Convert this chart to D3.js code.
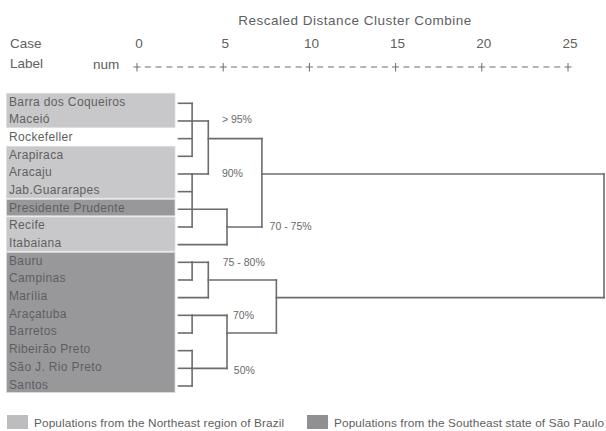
<!DOCTYPE html>
<html>
<head>
<meta charset="utf-8">
<script src="https://cdn.jsdelivr.net/npm/d3@7"></script>
<style>
  html, body { margin: 0; padding: 0; background: #fff; }
  svg { display: block; font-family: "Liberation Sans", Arial, Helvetica, sans-serif; }
</style>
</head>
<body>
<svg id="chart" width="606" height="431"></svg>
<script>
// Cases in dendrogram order
const cases = [
  "Barra dos Coqueiros", "Maceió", "Rockefeller", "Arapiraca", "Aracaju",
  "Jab.Guararapes", "Presidente Prudente", "Recife", "Itabaiana", "Bauru",
  "Campinas", "Marília", "Araçatuba", "Barretos", "Ribeirão Preto",
  "São J. Rio Preto", "Santos"
];
// Origin of each population: NE = Northeast of Brazil, SP = São Paulo state, null = reference strain
const caseRegion = [
  "NE", "NE", null, "NE", "NE", "NE", "SP", "NE", "NE",
  "SP", "SP", "SP", "SP", "SP", "SP", "SP", "SP"
];
// Agglomeration schedule: members of each merge (case index, or 17+ for earlier merges)
const mergeChildren = [
  [0, 1, 2, 3], [4, 5, 7], [17, 18], [6, 8], [19, 20],
  [9, 10], [22, 11], [12, 13], [14, 15, 16], [24, 25], [23, 26], [21, 27]
];
// Rescaled distance at which each merge happens
const mergeDistance = [0.8, 0.8, 1.75, 2.85, 4.9, 0.8, 1.75, 0.8, 0.8, 2.85, 5.75, 25];
// Row from which the joined cluster continues to the right
const mergeRow = [1, 4, 2, 7, 4, 9, 10, 12, 15, 13, 11, 4];
// Bootstrap support written beside the nodes
const supportLabels = ["> 95%", "90%", "70 - 75%", "75 - 80%", "70%", "50%"];
// Axis
const axisTicks = [0, 5, 10, 15, 20, 25];
const axisTitle = "Rescaled Distance Cluster Combine";
const legendRegions = ["NE", "SP"];
const legendLabels = [
  "Populations from the Northeast region of Brazil",
  "Populations from the Southeast state of São Paulo"
];

const svg = d3.select("#chart");
const regionFill = d3.scaleOrdinal().domain(["NE", "SP"]).range(["#c8c8ca", "#98989b"]);
const legendFill = d3.scaleOrdinal().domain(["NE", "SP"]).range(["#bdbdbf", "#909093"]);
const lineColor = "#6c6c6c";
const textColor = "#606060";

// Scales
const rowY = d3.scaleLinear().domain([0, cases.length - 1]).range([103.3, 386]);
const axisX = d3.scaleLinear().domain([0, 25]).range([137, 568]);
const dendX = d3.scaleLinear().domain([0, 25]).range([178.5, 604]);

// ---- Header: title, case/label captions and the rescaled distance axis
svg.append("text")
  .attr("x", 355).attr("y", 25)
  .attr("text-anchor", "middle")
  .attr("font-size", 13.5).attr("letter-spacing", 0.5)
  .attr("fill", textColor)
  .text(axisTitle);

const hdr = svg.append("g").attr("font-size", 13.5).attr("fill", textColor);
hdr.append("text").attr("x", 10).attr("y", 48).text("Case");
hdr.append("text").attr("x", 10).attr("y", 68).text("Label");
hdr.append("text").attr("x", 93).attr("y", 69).text("num");

const axisY = 67;
const axis = svg.append("g");
axis.selectAll("text.tick")
  .data(axisTicks)
  .join("text")
  .attr("class", "tick")
  .attr("x", d => axisX(d) + 2)
  .attr("y", 48)
  .attr("text-anchor", "middle")
  .attr("font-size", 13.5)
  .attr("fill", textColor)
  .text(d => d);

// dashed runs between the "+" marks
const spans = d3.pairs(axisTicks);
axis.selectAll("line.run")
  .data(spans)
  .join("line")
  .attr("class", "run")
  .attr("x1", d => axisX(d[0]) + 3)
  .attr("x2", d => axisX(d[1]) - 3)
  .attr("y1", axisY).attr("y2", axisY)
  .attr("stroke", lineColor).attr("stroke-width", 1)
  .attr("stroke-dasharray", d => {
    const w = (axisX(d[1]) - axisX(d[0])) / 8;
    return `6 ${w - 6}`;
  })
  .attr("stroke-dashoffset", 6);
// "+" marks
const plus = axis.selectAll("g.plus").data(axisTicks).join("g")
  .attr("class", "plus")
  .attr("transform", d => `translate(${axisX(d)},${axisY})`);
plus.append("line").attr("x1", 0).attr("x2", 0).attr("y1", -4).attr("y2", 4.5)
  .attr("stroke", lineColor).attr("stroke-width", 1);
plus.append("line").attr("x1", -3.5).attr("x2", 3.5).attr("y1", 0).attr("y2", 0)
  .attr("stroke", lineColor).attr("stroke-width", 1);

// ---- Region boxes behind the case labels (runs of consecutive cases)
const runs = [];
caseRegion.forEach((r, i) => {
  const last = runs[runs.length - 1];
  if (last && last.region === r) last.end = i;
  else runs.push({ region: r, start: i, end: i });
});
svg.append("g").selectAll("rect")
  .data(runs.filter(r => r.region))
  .join("rect")
  .attr("x", 6.5)
  .attr("width", 168.5)
  .attr("y", d => rowY(d.start) - 10)
  .attr("height", d => rowY(d.end) - rowY(d.start) + 16.5)
  .attr("fill", d => regionFill(d.region))
  .attr("stroke", "#dcdcde").attr("stroke-width", 0.8);

// ---- Case labels
svg.append("g").selectAll("text")
  .data(cases)
  .join("text")
  .attr("x", 9)
  .attr("y", (d, i) => rowY(i) - 1.5)
  .attr("dominant-baseline", "central")
  .attr("font-size", 12).attr("letter-spacing", 0.35)
  .attr("fill", (d, i) => caseRegion[i] === "SP" ? "#5e5e62" : textColor)
  .text(d => d);

// ---- Dendrogram
const nLeaf = cases.length;
// position (row, distance) of every leaf and cluster node
const nodeRow = id => id < nLeaf ? id : mergeRow[id - nLeaf];
const nodeDist = id => id < nLeaf ? 0 : mergeDistance[id - nLeaf];

const segs = [];
mergeChildren.forEach((kids, m) => {
  const d = mergeDistance[m];
  const rows = kids.map(nodeRow);
  kids.forEach(k => {
    segs.push({ x1: nodeDist(k), x2: d, y1: nodeRow(k), y2: nodeRow(k) });
  });
  segs.push({ x1: d, x2: d, y1: d3.min(rows), y2: d3.max(rows) });
});

svg.append("g")
  .attr("stroke", lineColor).attr("stroke-width", 1.6).attr("stroke-linecap", "square")
  .selectAll("line")
  .data(segs)
  .join("line")
  .attr("x1", s => dendX(s.x1)).attr("x2", s => dendX(s.x2))
  .attr("y1", s => rowY(s.y1)).attr("y2", s => rowY(s.y2));

// support values beside their nodes: [distance, row] anchors
const supportAnchor = [[2.55, 0.9], [2.55, 4], [5.35, 7], [2.6, 9], [3.2, 12], [3.25, 15.1]];
svg.append("g").selectAll("text")
  .data(supportLabels)
  .join("text")
  .attr("x", (d, i) => dendX(supportAnchor[i][0]))
  .attr("y", (d, i) => rowY(supportAnchor[i][1]) - 0.5)
  .attr("dominant-baseline", "central")
  .attr("font-size", 10.5)
  .attr("fill", "#6a6a6a")
  .text(d => d);

// ---- Legend
const legendX = [7, 307];
const lg = svg.append("g").selectAll("g")
  .data(legendRegions)
  .join("g")
  .attr("transform", (d, i) => `translate(${legendX[i]},415)`);
lg.append("rect")
  .attr("width", 21).attr("height", 14)
  .attr("fill", d => legendFill(d));
lg.append("text")
  .attr("x", 27).attr("y", 7.5)
  .attr("dominant-baseline", "central")
  .attr("font-size", 11.8).attr("letter-spacing", 0.12)
  .attr("fill", textColor)
  .text((d, i) => legendLabels[i]);
</script>
</body>
</html>
